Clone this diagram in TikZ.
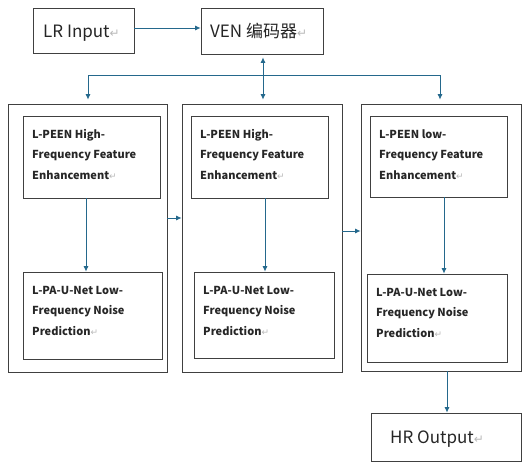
\documentclass[tikz,border=0pt]{standalone}
\usepackage{fontspec}
\setmainfont{Noto Sans CJK SC}
\newfontfamily\markfont{DejaVu Sans}
\usetikzlibrary{arrows.meta,fit}
\definecolor{arrc}{RGB}{36,104,140}
\definecolor{boxc}{RGB}{64,64,64}
\newcommand{\retmark}{{\markfont\color{gray!55}\mdseries\fontsize{9}{9}\selectfont ↵}}
\newcommand{\retmarkbig}{{\markfont\color{gray!55}\fontsize{12}{12}\selectfont ↵}}
\tikzset{
  box/.style={draw=boxc, line width=0.8pt, inner sep=0pt},
  intext/.style={anchor=north west, inner sep=0pt, align=left, text=black!85,
    font=\bfseries\fontsize{11}{20.5}\selectfont},
  toptext/.style={anchor=base west, inner sep=0pt, text=black!85,
    font=\fontsize{17}{20}\selectfont},
  conn/.style={draw=arrc, line width=0.8pt, -{Latex[length=5.5pt,width=5pt]}},
}
\begin{document}
\begin{tikzpicture}[x=1pt,y=-1pt]
\useasboundingbox (0,0) rectangle (522,462);
% top boxes
\node[box, fit={(33,8)(134,53)}] (lr) {};
\node[box, fit={(201,8)(323,54)}] (ven) {};
\node[box, fit={(371,413)(521,461)}] (hr) {};
\node[toptext] (lrt) at (43,38) {LR Input\retmarkbig};
\node[toptext] (vent) at (210,38) {VEN 编码器\retmarkbig};
\node[toptext] (hrt) at (390,443) {HR Output\retmarkbig};
% outer boxes
\node[box, fit={(8,104)(167,372)}] (o1) {};
\node[box, fit={(182,104)(342,372)}] (o2) {};
\node[box, fit={(361,104)(521,371)}] (o3) {};
% inner boxes
\node[box, fit={(23,116)(160,198)}] (a1) {};
\node[box, fit={(23,272)(162,359)}] (b1) {};
\node[box, fit={(191,116)(328,198)}] (a2) {};
\node[box, fit={(194,272)(334,358)}] (b2) {};
\node[box, fit={(370,116)(507,197)}] (a3) {};
\node[box, fit={(367,274)(507,362)}] (b3) {};
% inner texts
\node[intext] (ta1) at (32,129) {\rule{0pt}{9pt}L-PEEN High-\\Frequency Feature\\Enhancement\retmark};
\node[intext] (tb1) at (32,285) {\rule{0pt}{9pt}L-PA-U-Net Low-\\Frequency Noise\\Prediction\retmark};
\node[intext] (ta2) at (200,129) {\rule{0pt}{9pt}L-PEEN High-\\Frequency Feature\\Enhancement\retmark};
\node[intext] (tb2) at (203,285) {\rule{0pt}{9pt}L-PA-U-Net Low-\\Frequency Noise\\Prediction\retmark};
\node[intext] (ta3) at (379,129) {\rule{0pt}{9pt}L-PEEN low-\\Frequency Feature\\Enhancement\retmark};
\node[intext] (tb3) at (376,287) {\rule{0pt}{9pt}L-PA-U-Net Low-\\Frequency Noise\\Prediction\retmark};
% connectors
\draw[conn] (lr.east |- 0,28) -- (ven.west |- 0,28);
\coordinate (split) at (263,75);
\draw[conn, {Latex[length=5.5pt,width=5pt]}-{Latex[length=5.5pt,width=5pt]}, shorten <=3pt, shorten >=4pt] (ven.south -| 263,0) -- (o2.north -| 263,0);
\draw[conn, shorten >=4pt] (split) -| (o1.north -| 88,0);
\draw[conn, shorten >=4pt] (split) -| (o3.north -| 440,0);
\draw[conn] (a1.south -| 86,0) -- (b1.north -| 86,0);
\draw[conn] (a2.south -| 265,0) -- (b2.north -| 265,0);
\draw[conn] (a3.south -| 444,0) -- (b3.north -| 444,0);
\draw[conn] (o1.east |- 0,218) -- (o2.west |- 0,218);
\draw[conn] (o2.east |- 0,231) -- (o3.west |- 0,231);
\draw[conn] (o3.south -| 447,0) -- (hr.north -| 447,0);
\end{tikzpicture}
\end{document}
